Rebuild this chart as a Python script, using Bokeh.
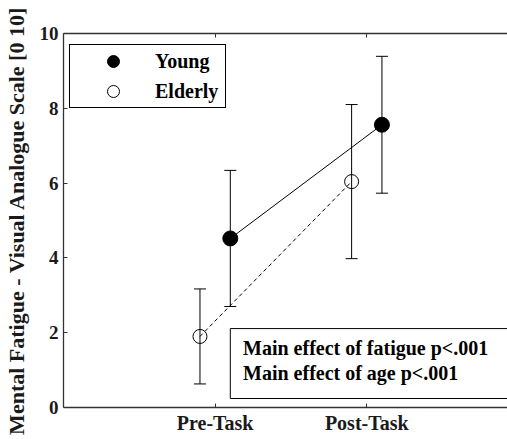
from bokeh.plotting import figure
from bokeh.models import (Range1d, FixedTicker, LinearAxis, Whisker, TeeHead,
                          ColumnDataSource, Legend, LegendItem, Label)
from bokeh.embed import file_html
from bokeh.resources import INLINE

# ---- data ----
phases = ["Pre-Task", "Post-Task"]
phase_pos = [1, 2]
young_mean = [4.52, 7.56]
young_sd = [1.82, 1.83]
elderly_mean = [1.90, 6.04]
elderly_sd = [1.27, 2.06]
y_ticks = [0, 2, 4, 6, 8, 10]
annot_lines = ["Main effect of fatigue p<.001", "Main effect of age p<.001"]

FONT = "Liberation Serif"
INK = "#1a1a1a"
AXC = "#333333"

young_x = [p + 0.1 for p in phase_pos]
eld_x = [p - 0.1 for p in phase_pos]

ysrc = ColumnDataSource(dict(x=young_x, m=young_mean,
                             up=[m + s for m, s in zip(young_mean, young_sd)],
                             lo=[m - s for m, s in zip(young_mean, young_sd)]))
esrc = ColumnDataSource(dict(x=eld_x, m=elderly_mean,
                             up=[m + s for m, s in zip(elderly_mean, elderly_sd)],
                             lo=[m - s for m, s in zip(elderly_mean, elderly_sd)]))

p = figure(width=507, height=439, output_backend="svg", toolbar_location=None,
           x_range=Range1d(0, 2.928), y_range=Range1d(0, 10),
           min_border_left=62, min_border_right=0, min_border_top=33,
           min_border_bottom=32)
p.outline_line_color = None
p.xgrid.visible = False
p.ygrid.visible = False

# annotation box (clipped at frame right edge)
p.quad(left=[1.1], right=[3.5], top=[2.11], bottom=[0.24],
       fill_color="white", line_color="black", line_width=1)
for i, t in enumerate(annot_lines):
    p.add_layout(Label(x=1.184, y=[1.58, 0.91][i], text=t, text_baseline="middle",
                       text_font=FONT, text_font_style="bold",
                       text_font_size="20px", text_color="black"))

# connecting lines
p.line("x", "m", source=ysrc, line_color="black", line_width=1)
p.line("x", "m", source=esrc, line_color="black", line_width=1, line_dash="4 3")

# error bars
for src in (ysrc, esrc):
    w = Whisker(source=src, base="x", upper="up", lower="lo", dimension="height",
                line_color="black", line_width=1,
                upper_head=TeeHead(size=12, line_color="black", line_width=1),
                lower_head=TeeHead(size=12, line_color="black", line_width=1))
    p.add_layout(w)

ry = p.scatter("x", "m", source=ysrc, size=15, fill_color="black", line_color="black")
re = p.scatter("x", "m", source=esrc, size=14, fill_color=None, line_color="black",
               line_width=1)

# axes
ya = p.yaxis[0]
ya.ticker = FixedTicker(ticks=y_ticks)
ya.axis_label = "Mental Fatigue - Visual Analogue Scale [0 10]"
xa = p.xaxis[0]
xa.ticker = FixedTicker(ticks=phase_pos)
xa.major_label_overrides = {pp: ph for pp, ph in zip(phase_pos, phases)}

top = LinearAxis(ticker=FixedTicker(ticks=phase_pos), major_label_text_color=None)
p.add_layout(top, "above")

for ax in (ya, xa, top):
    ax.major_tick_in = 4
    ax.major_tick_out = 0
    ax.minor_tick_line_color = None
    ax.axis_line_color = AXC
    ax.axis_line_width = 1.3
    ax.major_tick_line_color = AXC
    ax.major_label_text_font = FONT
    ax.major_label_text_font_style = "bold"
ya.major_label_text_color = INK
xa.major_label_text_color = INK
ya.major_label_text_font_size = "19px"
xa.major_label_text_font_size = "20px"
ya.major_label_standoff = 5
xa.major_label_standoff = 4
top.major_label_standoff = 0
ya.axis_label_text_font = FONT
ya.axis_label_text_font_style = "bold"
ya.axis_label_text_font_size = "22px"
ya.axis_label_text_color = INK
ya.axis_label_standoff = 8

legend = Legend(items=[LegendItem(label="Young", renderers=[ry]),
                       LegendItem(label="Elderly", renderers=[re])],
                location=(6, 299), padding=1, spacing=0, glyph_width=84,
                glyph_height=30, label_height=20, label_width=69, label_standoff=0,
                margin=0,
                border_line_color="black", border_line_width=1, border_line_alpha=1,
                background_fill_color="white", background_fill_alpha=1,
                label_text_font=FONT, label_text_font_style="bold",
                label_text_font_size="20px", label_text_color="black")
p.add_layout(legend)

open("out.html", "w").write(file_html(p, INLINE))
